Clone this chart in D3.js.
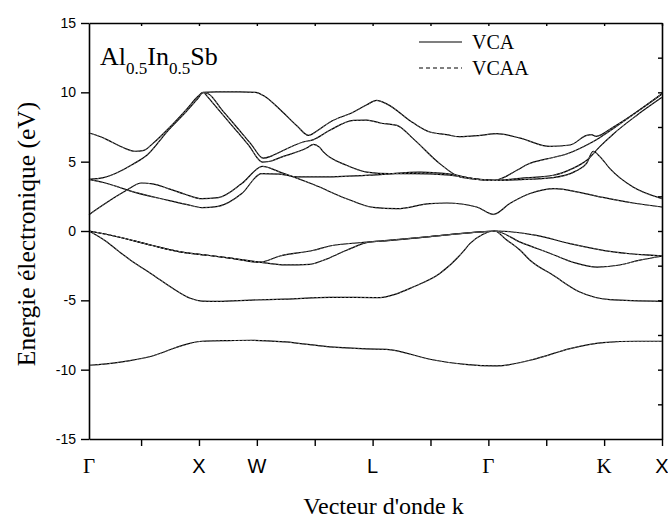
<!DOCTYPE html>
<html><head><meta charset="utf-8">
<script src="https://cdn.jsdelivr.net/npm/d3@7"></script>
<style>
body{margin:0;background:#fff;}
svg{display:block;}
</style></head>
<body><svg id="c" width="668" height="528"></svg>
<script>
// ---------- data (k in path units, E in eV) ----------
const kTicks = [1,2,3,4,5,6,7,8,9,10];
const eTicks = [-15,-10,-5,0,5,10,15];
const eMinorTicks = [-12.5,-10,-7.5,-5,-2.5,0,2.5,5,7.5,10,12.5];
const symLabels = ["Γ","X","W","L","Γ","K","X"];
const symPos = [0.1,2,3,5,7,9,10];
const symSerif = [true,false,false,false,true,true,false];
const seriesNames = ["VCA","VCAA"];

const vcaBand1 = [[0.10,-9.68],[0.61,-9.47],[1.18,-9.03],[1.76,-8.19],[2.05,-7.95],[2.50,-7.90],[2.91,-7.88],[3.49,-8.00],[4.26,-8.36],[4.90,-8.50],[5.24,-8.53],[5.99,-9.25],[6.60,-9.62],[7.14,-9.73],[7.83,-9.20],[8.41,-8.48],[8.98,-8.05],[9.56,-7.95],[10.0,-7.95]];
const vcaBand2 = [[0.10,0],[0.38,-0.70],[0.61,-1.45],[0.85,-2.20],[1.18,-3.10],[1.59,-4.25],[1.85,-4.85],[2.05,-5.05],[2.33,-5.07],[2.91,-4.98],[3.49,-4.92],[4.26,-4.78],[5.13,-4.80],[5.40,-4.55],[5.70,-4.04],[6.16,-3.07],[6.56,-1.51],[6.68,-0.91],[6.90,-0.25],[7.11,0],[7.30,-0.60],[7.55,-1.39],[7.72,-2.11],[8.12,-3.19],[8.58,-4.40],[9.10,-4.95],[10.0,-5.07]];
const vcaBand3 = [[0.10,0],[0.61,-0.43],[1.18,-1.03],[1.76,-1.56],[2.09,-1.72],[2.54,-1.95],[3.05,-2.25],[3.49,-2.45],[3.92,-2.40],[4.15,-2.11],[4.55,-1.39],[4.95,-0.79],[5.13,-0.74],[5.99,-0.40],[6.86,-0.07],[7.11,0],[7.55,-0.80],[8.06,-1.60],[8.50,-2.30],[8.88,-2.60],[9.27,-2.45],[9.62,-2.10],[10.0,-1.82]];
const vcaBand4 = [[0.10,0],[0.61,-0.43],[1.18,-1.03],[1.76,-1.56],[2.09,-1.72],[2.54,-1.95],[3.05,-2.25],[3.40,-1.80],[3.98,-1.39],[4.26,-1.08],[5.01,-0.77],[5.99,-0.40],[6.86,-0.07],[7.11,0],[7.83,-0.31],[8.41,-0.91],[9.16,-1.51],[10.0,-1.80]];
const vcaBand5 = [[0.10,1.18],[0.38,1.98],[0.72,2.86],[1.01,3.46],[1.20,3.40],[1.47,3.06],[1.76,2.65],[2.05,2.33],[2.33,2.40],[2.74,3.42],[3.10,4.66],[3.40,4.25],[3.98,3.35],[4.55,2.33],[5.01,1.70],[5.42,1.61],[5.99,1.98],[6.28,2.02],[6.80,1.73],[7.09,1.20],[7.37,1.98],[7.72,2.70],[8.15,3.06],[8.55,2.80],[8.98,2.42],[9.50,2.02],[10.0,1.73]];
const vcaBand6 = [[0.10,3.73],[0.35,3.50],[0.61,3.17],[0.78,2.93],[1.47,2.21],[1.80,1.90],[2.05,1.69],[2.33,1.78],[2.74,2.70],[3.08,4.14],[3.40,4.10],[3.69,3.90],[4.15,3.90],[5.13,4.07],[5.82,4.25],[6.28,4.14],[6.86,3.71],[7.11,3.66],[7.55,3.70],[8.12,3.85],[8.50,4.30],[8.70,4.90],[8.81,5.75],[8.93,5.35],[9.10,4.50],[9.50,3.17],[10.0,2.34]];
const vcaBand7 = [[0.10,7.07],[0.30,6.80],[0.49,6.42],[0.70,6.00],[0.89,5.75],[1.05,5.82],[1.20,6.30],[1.47,7.38],[1.80,8.85],[1.98,9.70],[2.07,10.0],[2.30,10.03],[2.70,10.03],[2.98,10.0],[3.12,9.75],[3.40,8.76],[3.70,7.55],[3.89,6.90],[4.05,7.25],[4.26,7.85],[4.67,8.58],[4.90,9.10],[5.07,9.42],[5.25,9.15],[5.70,7.80],[5.99,7.14],[6.28,6.95],[6.50,6.80],[6.86,6.90],[7.14,7.02],[7.55,6.70],[8.06,6.10],[8.41,6.20],[8.70,6.90],[8.78,6.95],[8.86,6.83],[9.16,7.50],[10.0,9.88]];
const vcaBand8 = [[0.10,3.73],[0.35,3.85],[0.61,4.25],[0.85,4.80],[1.10,5.46],[1.47,7.26],[1.80,8.70],[1.98,9.55],[2.07,9.98],[2.16,9.90],[2.40,8.72],[2.65,7.50],[2.90,6.27],[3.11,5.25],[3.25,5.40],[3.40,5.70],[3.80,6.42],[3.98,6.59],[4.26,7.26],[4.67,7.98],[4.90,8.00],[5.13,7.79],[5.42,7.62],[5.70,6.66],[6.16,4.86],[6.51,3.90],[6.86,3.71],[7.11,3.66],[7.26,3.85],[7.50,4.40],[7.70,4.85],[8.01,5.20],[8.35,5.55],[8.70,6.20],[8.93,6.75],[9.16,7.40],[10.0,9.90]];
const vcaBand9 = [[2.09,9.98],[2.30,8.94],[2.60,7.46],[2.85,6.23],[3.10,4.97],[3.25,5.05],[3.40,5.29],[3.86,5.98],[3.98,6.25],[4.08,6.05],[4.15,5.70],[4.55,4.74],[4.90,4.25],[5.30,4.14],[5.70,4.14],[6.28,4.05],[6.86,3.73],[7.11,3.66],[7.55,3.80],[8.12,4.02],[8.45,4.50],[8.70,5.10],[8.93,6.10],[9.16,7.00],[9.55,8.30],[10.0,9.64]];

const vcaaBand1 = [[0.10,-9.70],[0.61,-9.48],[1.18,-9.04],[1.76,-8.20],[2.05,-7.96],[2.50,-7.91],[2.91,-7.89],[3.49,-8.01],[4.26,-8.37],[4.90,-8.51],[5.24,-8.54],[5.99,-9.26],[6.60,-9.63],[7.14,-9.74],[7.83,-9.21],[8.41,-8.49],[8.98,-8.06],[9.56,-7.96],[10.0,-7.96]];
const vcaaBand2 = [[0.10,0],[0.38,-0.70],[0.61,-1.45],[0.85,-2.20],[1.18,-3.10],[1.59,-4.25],[1.85,-4.85],[2.05,-5.05],[2.33,-5.07],[2.91,-4.98],[3.49,-4.92],[4.26,-4.78],[5.13,-4.80],[5.40,-4.55],[5.70,-4.04],[6.16,-3.07],[6.56,-1.51],[6.68,-0.91],[6.90,-0.25],[7.11,0],[7.30,-0.60],[7.55,-1.39],[7.72,-2.11],[8.12,-3.19],[8.58,-4.40],[9.10,-4.95],[10.0,-5.07]];
const vcaaBand3 = [[0.10,0],[0.61,-0.43],[1.18,-1.03],[1.76,-1.56],[2.09,-1.72],[2.54,-1.95],[3.05,-2.25],[3.49,-2.45],[3.92,-2.40],[4.15,-2.11],[4.55,-1.39],[4.95,-0.79],[5.13,-0.74],[5.99,-0.40],[6.86,-0.07],[7.11,0],[7.55,-0.80],[8.06,-1.60],[8.50,-2.30],[8.88,-2.60],[9.27,-2.45],[9.62,-2.10],[10.0,-1.82]];
const vcaaBand4 = [[0.10,0],[0.61,-0.43],[1.18,-1.03],[1.76,-1.56],[2.09,-1.72],[2.54,-1.95],[3.05,-2.25],[3.40,-1.80],[3.98,-1.39],[4.26,-1.08],[5.01,-0.77],[5.99,-0.40],[6.86,-0.07],[7.11,0],[7.83,-0.31],[8.41,-0.91],[9.16,-1.51],[10.0,-1.80]];
const vcaaBand5 = [[0.10,1.16],[0.38,1.96],[0.72,2.85],[1.01,3.45],[1.20,3.39],[1.47,3.05],[1.76,2.64],[2.05,2.32],[2.33,2.39],[2.74,3.41],[3.10,4.65],[3.40,4.24],[3.98,3.34],[4.55,2.32],[5.01,1.69],[5.42,1.60],[5.99,1.97],[6.28,2.01],[6.80,1.72],[7.09,1.18],[7.37,1.97],[7.72,2.69],[8.15,3.05],[8.55,2.79],[8.98,2.41],[9.50,2.01],[10.0,1.72]];
const vcaaBand6 = [[0.10,3.72],[0.35,3.49],[0.61,3.16],[0.78,2.92],[1.47,2.20],[1.80,1.89],[2.05,1.68],[2.33,1.77],[2.74,2.69],[3.08,4.13],[3.40,4.09],[3.69,3.89],[4.15,3.89],[5.13,4.06],[5.82,4.24],[6.28,4.13],[6.86,3.70],[7.11,3.65],[7.55,3.69],[8.12,3.84],[8.50,4.29],[8.70,4.89],[8.81,5.74],[8.93,5.34],[9.10,4.49],[9.50,3.16],[10.0,2.33]];
const vcaaBand7 = [[0.10,7.06],[0.30,6.79],[0.49,6.41],[0.70,5.99],[0.89,5.74],[1.05,5.81],[1.20,6.29],[1.47,7.37],[1.80,8.84],[1.98,9.69],[2.07,9.99],[2.30,10.02],[2.70,10.02],[2.98,9.99],[3.12,9.74],[3.40,8.75],[3.70,7.54],[3.89,6.89],[4.05,7.24],[4.26,7.84],[4.67,8.57],[4.90,9.09],[5.07,9.41],[5.25,9.14],[5.70,7.79],[5.99,7.13],[6.28,6.94],[6.50,6.79],[6.86,6.89],[7.14,7.01],[7.55,6.69],[8.06,6.09],[8.41,6.19],[8.70,6.89],[8.78,6.94],[8.86,6.82],[9.16,7.49],[10.0,9.87]];
const vcaaBand8 = [[0.10,3.72],[0.35,3.84],[0.61,4.24],[0.85,4.79],[1.10,5.45],[1.47,7.25],[1.80,8.69],[1.98,9.54],[2.07,9.97],[2.16,9.89],[2.40,8.71],[2.65,7.49],[2.90,6.26],[3.11,5.24],[3.25,5.39],[3.40,5.69],[3.80,6.41],[3.98,6.58],[4.26,7.25],[4.67,7.97],[4.90,7.99],[5.13,7.78],[5.42,7.61],[5.70,6.65],[6.16,4.85],[6.51,3.89],[6.86,3.70],[7.11,3.65],[7.26,3.84],[7.50,4.39],[7.70,4.84],[8.01,5.19],[8.35,5.54],[8.70,6.19],[8.93,6.74],[9.16,7.39],[10.0,9.89]];
const vcaaBand9 = [[2.09,9.97],[2.30,8.93],[2.60,7.45],[2.85,6.22],[3.10,4.96],[3.25,5.04],[3.40,5.28],[3.86,5.97],[3.98,6.24],[4.08,6.04],[4.15,5.69],[4.55,4.73],[4.90,4.24],[5.30,4.13],[5.70,4.13],[6.28,4.04],[6.86,3.72],[7.11,3.65],[7.55,3.79],[8.12,4.01],[8.45,4.49],[8.70,5.09],[8.93,6.09],[9.16,6.99],[9.55,8.29],[10.0,9.63]];

const vcaBands = [vcaBand1,vcaBand2,vcaBand3,vcaBand4,vcaBand5,vcaBand6,vcaBand7,vcaBand8,vcaBand9];
const vcaaBands = [vcaaBand1,vcaaBand2,vcaaBand3,vcaaBand4,vcaaBand5,vcaaBand6,vcaaBand7,vcaaBand8,vcaaBand9];

// ---------- layout ----------
const W = 668, H = 528;
const plot = {left: 89, right: 662, top: 23, bottom: 439};
const svg = d3.select("#c");
svg.append("rect").attr("width", W).attr("height", H).attr("fill", "#fff");

const x = d3.scaleLinear().domain([0.1, 10]).range([plot.left, plot.right]);
const y = d3.scaleLinear().domain([-15, 15]).range([plot.bottom, plot.top]);

const serif = "'Liberation Serif','Times New Roman',serif";
const sans = "'Liberation Sans',Arial,sans-serif";

// bands
const line = d3.line().x(d => x(d[0])).y(d => y(d[1])).curve(d3.curveMonotoneX);
const bandG = svg.append("g");
bandG.selectAll("path.vca").data(vcaBands).join("path")
  .attr("class","vca").attr("d", line)
  .attr("fill","none").attr("stroke","#000").attr("stroke-width",1.2);
bandG.selectAll("path.vcaa").data(vcaaBands).join("path")
  .attr("class","vcaa").attr("d", line)
  .attr("fill","none").attr("stroke","#777").attr("stroke-width",0.8)
  .attr("stroke-dasharray","2,2");

// axes
function styleAxis(g){
  g.select(".domain").attr("stroke","#000").attr("stroke-width",1.6);
  g.selectAll(".tick line").attr("stroke","#000").attr("stroke-width",1.4);
}
svg.append("g").attr("transform",`translate(0,${plot.bottom})`)
  .call(d3.axisBottom(x).tickValues(kTicks).tickSize(7).tickSizeOuter(0).tickFormat(""))
  .call(styleAxis);
svg.append("g").attr("transform",`translate(0,${plot.top})`)
  .call(d3.axisTop(x).tickValues(kTicks).tickSize(-3).tickSizeOuter(0).tickFormat(""))
  .call(styleAxis);
svg.append("g").attr("transform",`translate(${plot.right},0)`)
  .call(d3.axisRight(y).tickValues(eMinorTicks).tickSize(-4).tickSizeOuter(0).tickFormat(""))
  .call(styleAxis);
const yAx = svg.append("g").attr("transform",`translate(${plot.left},0)`)
  .call(d3.axisLeft(y).tickValues(eTicks).tickSize(8).tickSizeOuter(0).tickPadding(5).tickFormat(d => String(d)))
  .call(styleAxis);
yAx.selectAll(".tick text").attr("font-family", sans).attr("font-size", 14).attr("fill","#000");

// symmetry-point labels
svg.append("g").selectAll("text").data(symLabels).join("text")
  .attr("x", (d,i) => x(symPos[i]))
  .attr("y", 473)
  .attr("text-anchor","middle")
  .attr("font-family", (d,i) => symSerif[i] ? serif : sans)
  .attr("font-size", (d,i) => symSerif[i] ? 21 : 20)
  .attr("fill","#000")
  .text(d => d);

// axis titles
svg.append("text").attr("transform","translate(35,234) rotate(-90)")
  .attr("text-anchor","middle").attr("font-family",serif).attr("font-size",25.5)
  .text("Energie électronique (eV)");
svg.append("text").attr("x",(plot.left+plot.right)/2+8).attr("y",514)
  .attr("text-anchor","middle").attr("font-family",serif).attr("font-size",24)
  .text("Vecteur d'onde k");

// compound label
const t = svg.append("text").attr("x",100).attr("y",65).attr("font-family",serif).attr("font-size",26);
t.append("tspan").text("Al");
t.append("tspan").attr("font-size",17).attr("dy",9).text("0.5");
t.append("tspan").attr("dy",-9).text("In");
t.append("tspan").attr("font-size",17).attr("dy",9).text("0.5");
t.append("tspan").attr("dy",-9).text("Sb");

// legend
const leg = svg.append("g");
seriesNames.forEach((name,i) => {
  const ly = 42 + i*26;
  leg.append("line").attr("x1",419).attr("x2",462).attr("y1",ly).attr("y2",ly)
    .attr("stroke","#000").attr("stroke-width",1.1)
    .attr("stroke-dasharray", i===1 ? "4,3" : null);
  leg.append("text").attr("x",472).attr("y",ly+7).attr("font-family",serif).attr("font-size",20).text(name);
});
</script></body></html>
